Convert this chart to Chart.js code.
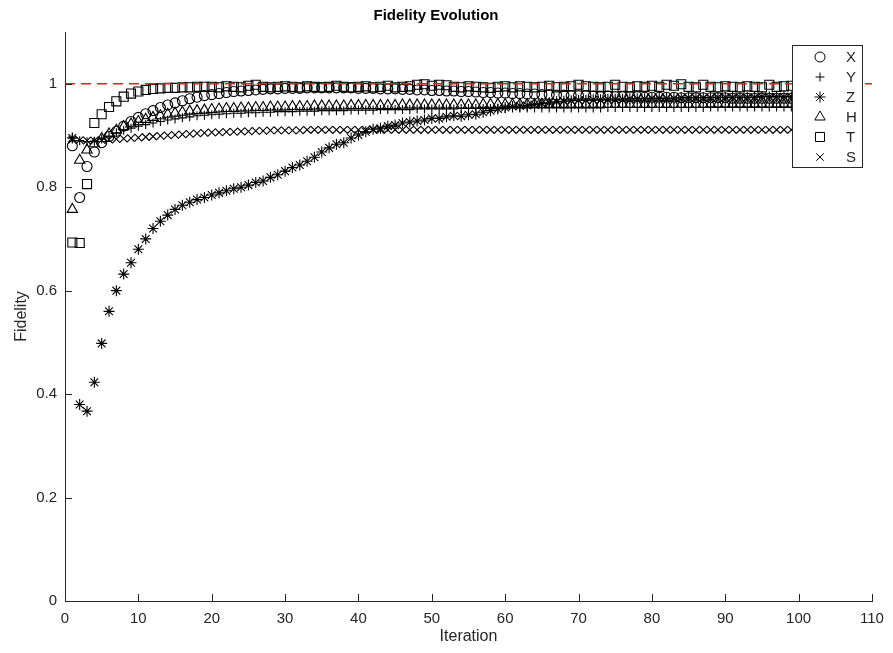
<!DOCTYPE html>
<html>
<head>
<meta charset="utf-8">
<script src="https://cdn.jsdelivr.net/npm/chart.js@4.4.0/dist/chart.umd.min.js"></script>
<style>
  html, body { margin: 0; padding: 0; background: #fff; }
  #wrap { width: 893px; height: 653px; }
</style>
</head>
<body>
<div id="wrap"><canvas id="fidelityChart" width="893" height="653"></canvas></div>
<script>
// ---------------- data ----------------
const iterations = [
  1, 2, 3, 4, 5, 6, 7, 8, 9, 10, 11, 12, 13, 14, 15, 16, 17, 18, 19, 20,
  21, 22, 23, 24, 25, 26, 27, 28, 29, 30, 31, 32, 33, 34, 35, 36, 37, 38, 39, 40,
  41, 42, 43, 44, 45, 46, 47, 48, 49, 50, 51, 52, 53, 54, 55, 56, 57, 58, 59, 60,
  61, 62, 63, 64, 65, 66, 67, 68, 69, 70, 71, 72, 73, 74, 75, 76, 77, 78, 79, 80,
  81, 82, 83, 84, 85, 86, 87, 88, 89, 90, 91, 92, 93, 94, 95, 96, 97, 98, 99, 100
];

const fidelityX = [
  0.880, 0.780, 0.840, 0.868, 0.886, 0.898, 0.908, 0.918, 0.927, 0.935,
  0.942, 0.948, 0.954, 0.959, 0.963, 0.967, 0.971, 0.974, 0.977, 0.979,
  0.981, 0.983, 0.985, 0.986, 0.987, 0.988, 0.989, 0.990, 0.990, 0.991,
  0.991, 0.991, 0.992, 0.992, 0.992, 0.992, 0.992, 0.992, 0.992, 0.991,
  0.991, 0.991, 0.990, 0.990, 0.990, 0.989, 0.989, 0.988, 0.988, 0.987,
  0.987, 0.986, 0.986, 0.985, 0.985, 0.984, 0.983, 0.983, 0.982, 0.982,
  0.981, 0.981, 0.980, 0.980, 0.979, 0.979, 0.978, 0.978, 0.977, 0.977,
  0.977, 0.976, 0.976, 0.976, 0.975, 0.975, 0.975, 0.975, 0.974, 0.974,
  0.974, 0.974, 0.974, 0.973, 0.973, 0.973, 0.973, 0.973, 0.973, 0.973,
  0.972, 0.972, 0.972, 0.972, 0.972, 0.972, 0.972, 0.972, 0.972, 0.972
];

const fidelityY = [
  0.895, 0.890, 0.888, 0.889, 0.893, 0.899, 0.905, 0.910, 0.914, 0.918,
  0.921, 0.924, 0.927, 0.930, 0.932, 0.934, 0.936, 0.938, 0.939, 0.940,
  0.941, 0.942, 0.943, 0.943, 0.944, 0.944, 0.945, 0.945, 0.946, 0.946,
  0.946, 0.947, 0.947, 0.947, 0.948, 0.948, 0.948, 0.948, 0.949, 0.949,
  0.949, 0.949, 0.950, 0.950, 0.950, 0.950, 0.950, 0.951, 0.951, 0.951,
  0.951, 0.951, 0.951, 0.952, 0.952, 0.952, 0.952, 0.952, 0.952, 0.952,
  0.953, 0.953, 0.953, 0.953, 0.953, 0.953, 0.953, 0.953, 0.953, 0.953,
  0.953, 0.953, 0.953, 0.954, 0.954, 0.954, 0.954, 0.954, 0.954, 0.954,
  0.954, 0.954, 0.954, 0.954, 0.954, 0.954, 0.954, 0.955, 0.955, 0.955,
  0.955, 0.955, 0.955, 0.955, 0.955, 0.955, 0.955, 0.955, 0.955, 0.955
];

const fidelityZ = [
  0.895, 0.380, 0.367, 0.423, 0.498, 0.560, 0.600, 0.632, 0.654, 0.680,
  0.700, 0.720, 0.734, 0.746, 0.757, 0.765, 0.771, 0.776, 0.780, 0.785,
  0.789, 0.793, 0.797, 0.800, 0.804, 0.809, 0.812, 0.819, 0.824, 0.831,
  0.838, 0.843, 0.850, 0.858, 0.868, 0.876, 0.883, 0.886, 0.895, 0.901,
  0.907, 0.912, 0.914, 0.918, 0.920, 0.924, 0.926, 0.928, 0.930, 0.933,
  0.933, 0.936, 0.938, 0.937, 0.940, 0.941, 0.945, 0.948, 0.951, 0.954,
  0.956, 0.957, 0.958, 0.960, 0.962, 0.963, 0.965, 0.966, 0.967, 0.968,
  0.968, 0.969, 0.969, 0.970, 0.970, 0.970, 0.971, 0.971, 0.971, 0.972,
  0.972, 0.972, 0.972, 0.973, 0.973, 0.973, 0.973, 0.973, 0.974, 0.974,
  0.974, 0.974, 0.974, 0.974, 0.975, 0.975, 0.975, 0.975, 0.975, 0.975
];

const fidelityH = [
  0.757, 0.852, 0.872, 0.884, 0.894, 0.903, 0.910, 0.917, 0.922, 0.927,
  0.931, 0.935, 0.938, 0.941, 0.943, 0.945, 0.947, 0.948, 0.949, 0.950,
  0.951, 0.952, 0.952, 0.953, 0.953, 0.954, 0.954, 0.955, 0.955, 0.955,
  0.956, 0.956, 0.956, 0.957, 0.957, 0.957, 0.957, 0.957, 0.958, 0.958,
  0.958, 0.958, 0.958, 0.958, 0.958, 0.959, 0.959, 0.959, 0.959, 0.959,
  0.959, 0.959, 0.959, 0.959, 0.959, 0.959, 0.960, 0.960, 0.960, 0.960,
  0.960, 0.960, 0.960, 0.960, 0.960, 0.960, 0.960, 0.960, 0.960, 0.960,
  0.960, 0.960, 0.960, 0.960, 0.960, 0.960, 0.960, 0.960, 0.960, 0.960,
  0.960, 0.960, 0.960, 0.960, 0.960, 0.960, 0.960, 0.960, 0.960, 0.960,
  0.960, 0.960, 0.960, 0.960, 0.960, 0.960, 0.960, 0.960, 0.960, 0.960
];

const fidelityT = [
  0.693, 0.692, 0.806, 0.924, 0.941, 0.955, 0.966, 0.975, 0.981, 0.985,
  0.988, 0.990, 0.991, 0.992, 0.992, 0.993, 0.993, 0.994, 0.994, 0.994,
  0.993, 0.995, 0.994, 0.993, 0.996, 0.998, 0.994, 0.993, 0.994, 0.995,
  0.994, 0.993, 0.995, 0.994, 0.993, 0.994, 0.996, 0.994, 0.993, 0.994,
  0.995, 0.993, 0.994, 0.996, 0.993, 0.994, 0.995, 0.998, 0.999, 0.996,
  0.998, 0.997, 0.994, 0.993, 0.995, 0.994, 0.993, 0.992, 0.994, 0.995,
  0.993, 0.995, 0.994, 0.993, 0.994, 0.996, 0.993, 0.994, 0.995, 0.998,
  0.995, 0.994, 0.993, 0.994, 0.998, 0.994, 0.993, 0.995, 0.994, 0.996,
  0.994, 0.998, 0.996, 0.999, 0.994, 0.993, 0.998, 0.994, 0.993, 0.995,
  0.994, 0.993, 0.995, 0.994, 0.993, 0.998, 0.994, 0.995, 0.996, 0.997
];

const fidelityS = [
  0.892, 0.891, 0.890, 0.890, 0.891, 0.892, 0.893, 0.894, 0.895, 0.896,
  0.897, 0.898, 0.899, 0.900, 0.901, 0.902, 0.903, 0.904, 0.905, 0.906,
  0.906, 0.907, 0.907, 0.908, 0.908, 0.909, 0.909, 0.910, 0.910, 0.910,
  0.910, 0.910, 0.911, 0.911, 0.911, 0.911, 0.911, 0.911, 0.911, 0.911,
  0.911, 0.911, 0.911, 0.911, 0.911, 0.911, 0.911, 0.911, 0.911, 0.911,
  0.911, 0.911, 0.911, 0.911, 0.911, 0.911, 0.911, 0.911, 0.911, 0.911,
  0.911, 0.911, 0.911, 0.911, 0.911, 0.911, 0.911, 0.911, 0.911, 0.911,
  0.911, 0.911, 0.911, 0.911, 0.911, 0.911, 0.911, 0.911, 0.911, 0.911,
  0.911, 0.911, 0.911, 0.911, 0.911, 0.911, 0.911, 0.911, 0.911, 0.911,
  0.911, 0.911, 0.911, 0.911, 0.911, 0.911, 0.911, 0.911, 0.911, 0.911
];

const seriesLabels = ["X", "Y", "Z", "H", "T", "S"];
const targetFidelity = 1;
const xRange = [0, 110];
const yRange = [0, 1.1];
const xTicks = [0, 10, 20, 30, 40, 50, 60, 70, 80, 90, 100, 110];
const yTicks = [0, 0.2, 0.4, 0.6, 0.8, 1];
const yTickLabels = ["0", "0.2", "0.4", "0.6", "0.8", "1"];

// ---------------- styling ----------------
const FONT = "'Liberation Sans', Arial, Helvetica, sans-serif";
const AXIS_COLOR = "#262626";
const markerStyles = [
  { pointStyle: "circle", radius: 5 },
  { pointStyle: "cross", radius: 4.5 },
  { pointStyle: "star", radius: 5.5 },
  { pointStyle: "triangle", radius: 6 },
  { pointStyle: "rect", radius: 6.4 },
  { pointStyle: "crossRot", radius: 5.3 }
];

const seriesValues = [fidelityX, fidelityY, fidelityZ, fidelityH, fidelityT, fidelityS];

const toPoints = vals => vals.map((v, i) => ({ x: iterations[i], y: v }));

const datasets = seriesValues.map((vals, i) => ({
  label: seriesLabels[i],
  data: toPoints(vals),
  showLine: false,
  pointStyle: markerStyles[i].pointStyle,
  pointRadius: markerStyles[i].radius,
  pointHoverRadius: markerStyles[i].radius,
  pointBorderColor: "#000",
  pointBackgroundColor: "rgba(0,0,0,0)",
  pointBorderWidth: 1.1,
  order: 10 - i
}));

// red dashed reference line at fidelity = 1
datasets.push({
  label: "target",
  data: [{ x: xRange[0], y: targetFidelity }, { x: xRange[1], y: targetFidelity }],
  showLine: true,
  borderColor: "rgb(232,30,30)",
  borderWidth: 1.5,
  borderDash: [10, 6],
  pointRadius: 0,
  fill: false,
  order: 0
});

// inward tick marks, MATLAB style
const innerTicks = {
  id: "innerTicks",
  afterDatasetsDraw(chart) {
    const { ctx, chartArea, scales } = chart;
    ctx.save();
    ctx.strokeStyle = AXIS_COLOR;
    ctx.lineWidth = 1;
    ctx.beginPath();
    xTicks.forEach(v => {
      const px = Math.round(scales.x.getPixelForValue(v)) + 0.5;
      ctx.moveTo(px, chartArea.bottom);
      ctx.lineTo(px, chartArea.bottom - 7);
    });
    yTicks.forEach(v => {
      const py = Math.round(scales.y.getPixelForValue(v)) + 0.5;
      ctx.moveTo(chartArea.left, py);
      ctx.lineTo(chartArea.left + 7, py);
    });
    ctx.stroke();
    ctx.restore();
  }
};

// legend box in the upper right corner
const boxLegend = {
  id: "boxLegend",
  afterDatasetsDraw(chart) {
    const { ctx } = chart;
    const left = 792, top = 45, w = 70, h = 122;
    ctx.save();
    ctx.fillStyle = "#fff";
    ctx.fillRect(left, top, w, h);
    ctx.strokeStyle = AXIS_COLOR;
    ctx.lineWidth = 1;
    ctx.strokeRect(left + 0.5, top + 0.5, w, h);
    ctx.font = "15px " + FONT;
    ctx.textBaseline = "middle";
    ctx.textAlign = "left";
    seriesLabels.forEach((lab, i) => {
      const y = top + 12 + i * 20;
      ctx.strokeStyle = "#000";
      ctx.fillStyle = "rgba(0,0,0,0)";
      ctx.lineWidth = 1;
      Chart.helpers.drawPoint(ctx, {
        pointStyle: markerStyles[i].pointStyle,
        radius: markerStyles[i].radius,
        rotation: 0,
        borderWidth: 1
      }, 820, y);
      ctx.fillStyle = AXIS_COLOR;
      ctx.fillText(lab, 846, y + 1);
    });
    ctx.restore();
  }
};

new Chart(document.getElementById("fidelityChart"), {
  type: "scatter",
  data: { datasets: datasets },
  options: {
    responsive: false,
    animation: false,
    devicePixelRatio: 1,
    layout: { padding: { left: 0, right: 21, top: 0, bottom: 0 } },
    plugins: {
      legend: { display: false },
      tooltip: { enabled: false },
      title: {
        display: true,
        text: "Fidelity Evolution",
        color: "#000",
        font: { family: FONT, size: 15, weight: "bold", lineHeight: 1.2 },
        padding: { top: 7, bottom: 7 }
      }
    },
    scales: {
      x: {
        type: "linear",
        min: xRange[0],
        max: xRange[1],
        afterBuildTicks: s => { s.ticks = xTicks.map(v => ({ value: v })); },
        afterFit: s => { s.height = 52; },
        grid: { drawOnChartArea: false, drawTicks: false },
        border: { display: true, color: AXIS_COLOR, width: 1 },
        ticks: {
          color: AXIS_COLOR,
          padding: 9,
          maxRotation: 0,
          font: { family: FONT, size: 15 }
        },
        title: {
          display: true,
          text: "Iteration",
          color: AXIS_COLOR,
          font: { family: FONT, size: 16 },
          padding: { top: 0, bottom: 7 }
        }
      },
      y: {
        type: "linear",
        min: yRange[0],
        max: yRange[1],
        afterBuildTicks: s => { s.ticks = yTicks.map(v => ({ value: v })); },
        afterFit: s => { s.width = 65; },
        grid: { drawOnChartArea: false, drawTicks: false },
        border: { display: true, color: AXIS_COLOR, width: 1 },
        ticks: {
          color: AXIS_COLOR,
          padding: 8,
          font: { family: FONT, size: 15 },
          callback: (v, i) => yTickLabels[i]
        },
        title: {
          display: true,
          text: "Fidelity",
          color: AXIS_COLOR,
          font: { family: FONT, size: 16 },
          padding: { top: 12, bottom: 0 }
        }
      }
    }
  },
  plugins: [innerTicks, boxLegend]
});
</script>
</body>
</html>
